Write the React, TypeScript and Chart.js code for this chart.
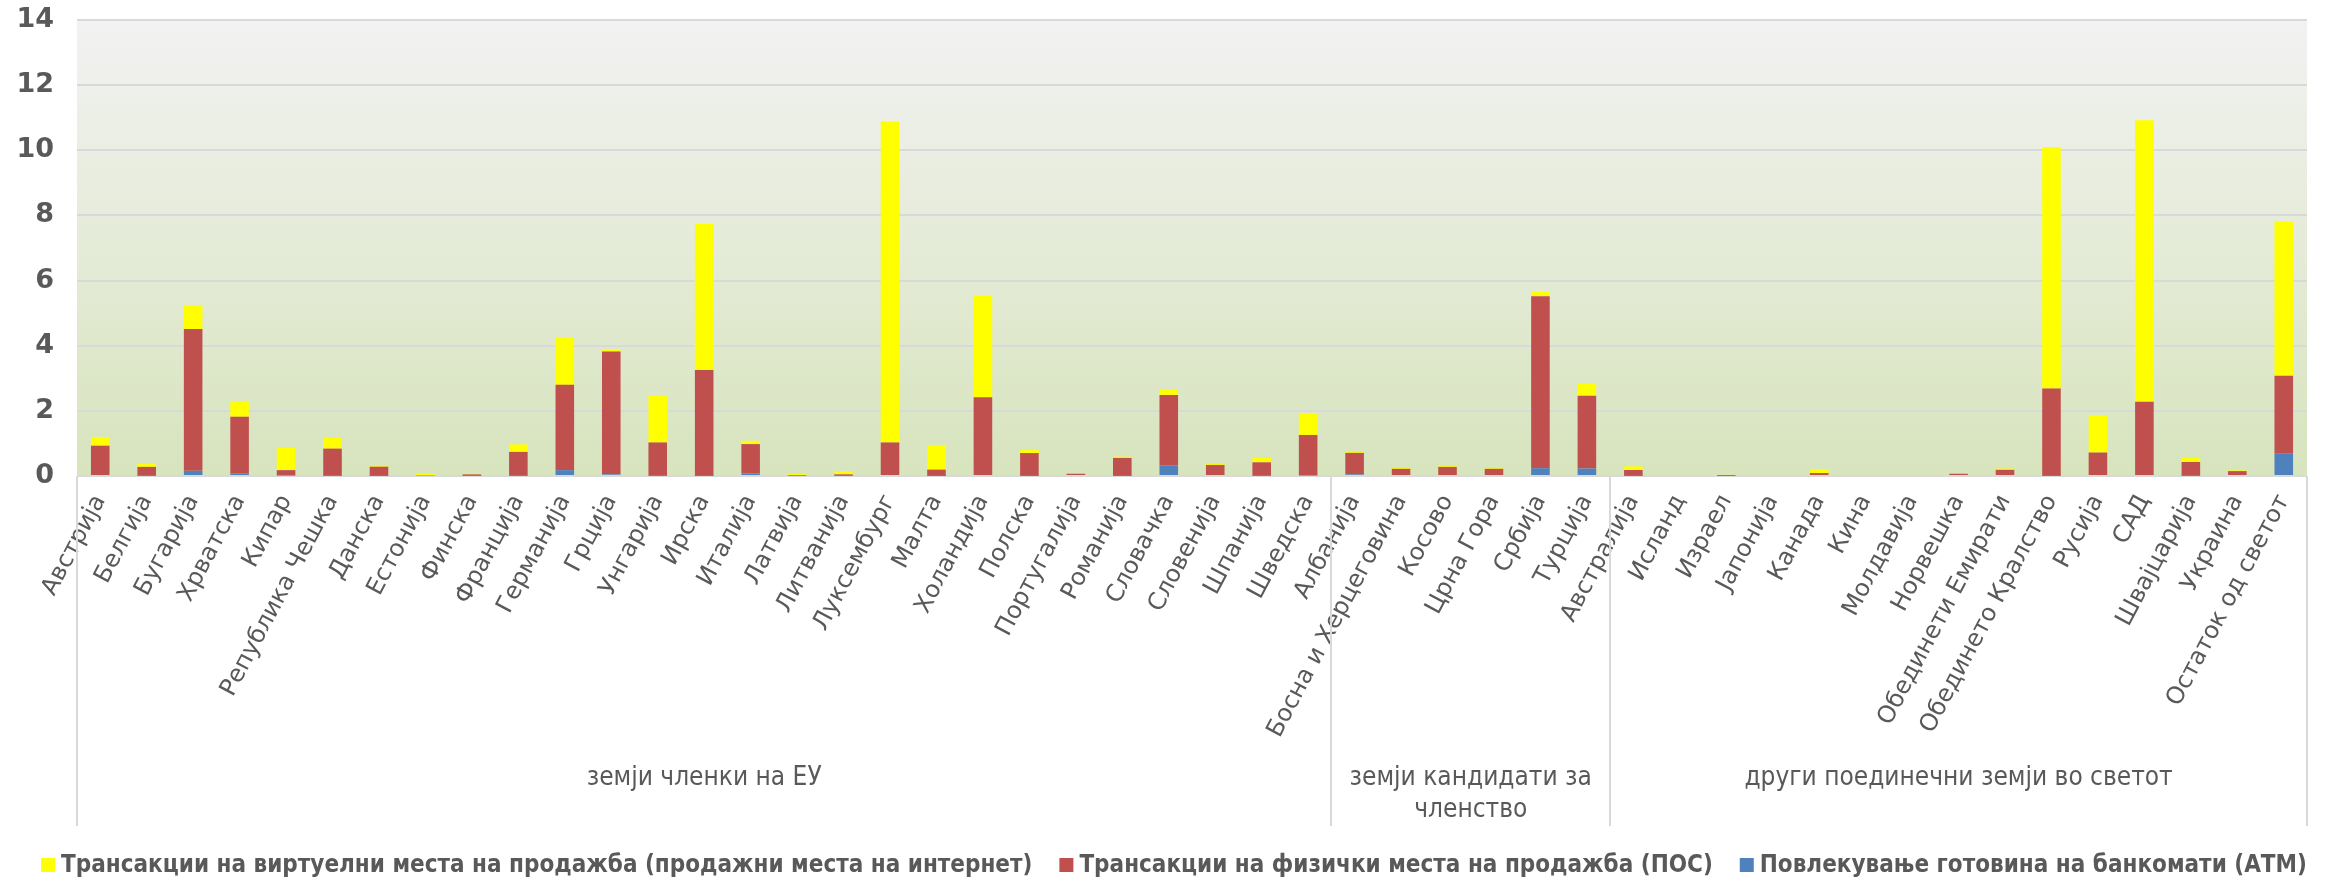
import React, { useEffect, useRef } from "react";
import { Chart, registerables } from "chart.js";

Chart.register(...registerables);

const categories = [
  "Австрија", "Белгија", "Бугарија", "Хрватска", "Кипар", "Република Чешка", "Данска", "Естонија", "Финска",
  "Франција", "Германија", "Грција", "Унгарија", "Ирска", "Италија", "Латвија", "Литванија", "Луксембург",
  "Малта", "Холандија", "Полска", "Португалија", "Романија", "Словачка", "Словенија", "Шпанија", "Шведска",
  "Албанија", "Босна и Херцеговина", "Косово", "Црна Гора", "Србија", "Турција",
  "Австралија", "Исланд", "Израел", "Јапонија", "Канада", "Кина", "Молдавија", "Норвешка",
  "Обединети Емирати", "Обединето Кралство", "Русија", "САД", "Швајцарија", "Украина", "Остаток од светот",
];

const atmValues = [
  0.03, 0.01, 0.16, 0.08, 0.02, 0.01, 0.005, 0, 0.01,
  0.01, 0.18, 0.05, 0.01, 0.005, 0.08, 0, 0.01, 0,
  0.005, 0.03, 0.005, 0, 0.005, 0.33, 0, 0.01, 0.02,
  0.05, 0, 0, 0, 0.24, 0.23,
  0.005, 0, 0, 0, 0, 0, 0, 0,
  0, 0.005, 0.03, 0.03, 0.01, 0, 0.7,
];

const posValues = [
  0.9, 0.27, 4.35, 1.74, 0.16, 0.83, 0.28, 0.02, 0.04,
  0.73, 2.62, 3.77, 1.02, 3.25, 0.9, 0.01, 0.04, 1.03,
  0.19, 2.39, 0.7, 0.07, 0.55, 2.16, 0.34, 0.41, 1.24,
  0.66, 0.22, 0.28, 0.22, 5.28, 2.23,
  0.18, 0, 0.005, 0, 0.09, 0, 0, 0.07,
  0.19, 2.68, 0.69, 2.25, 0.42, 0.15, 2.38,
];

const internetValues = [
  0.27, 0.09, 0.74, 0.47, 0.69, 0.33, 0.03, 0.05, 0.03,
  0.23, 1.46, 0.08, 1.43, 4.48, 0.1, 0.05, 0.09, 9.85,
  0.75, 3.11, 0.09, 0.02, 0.04, 0.15, 0.03, 0.14, 0.67,
  0.03, 0.03, 0.03, 0.02, 0.13, 0.39,
  0.11, 0, 0.03, 0, 0.12, 0, 0, 0.02,
  0.04, 7.41, 1.15, 8.64, 0.13, 0.02, 4.74,
];

const seriesNames = [
  "Повлекување готовина на банкомати (АТМ)",
  "Трансакции на физички места на продажба (ПОС)",
  "Трансакции на виртуелни места на продажба (продажни места на интернет)",
];

const groupLabels = [
  ["земји членки на ЕУ"],
  ["земји кандидати за", "членство"],
  ["други поединечни земји во светот"],
];
const groupSizes = [27, 6, 15];

const yMin = 0;
const yMax = 14;
const yStep = 2;

const COLORS = ["#4f81bd", "#c0504d", "#ffff00"];
const TEXT = "#595959";
const GRID = "#d9d9d9";

const W = 2325;
const H = 881;
const PLOT_TOP = 20;
const PLOT_BOTTOM = 476;

const bgPlugin = {
  id: "bgGradient",
  beforeDraw(chart: any) {
    const { ctx, chartArea } = chart;
    const { left, right, top, bottom } = chartArea;
    const g = ctx.createLinearGradient(0, top, 0, bottom);
    g.addColorStop(0, "#f2f2f2");
    g.addColorStop(1, "#d7e4bd");
    ctx.save();
    ctx.fillStyle = g;
    ctx.fillRect(left, top, right - left, bottom - top);
    ctx.restore();
  },
};

const groupPlugin = {
  id: "groups",
  afterDraw(chart: any) {
    const { ctx, chartArea } = chart;
    const x = chart.scales.x;
    const half = (x.getPixelForValue(1) - x.getPixelForValue(0)) / 2;
    const lineBottom = 826;
    ctx.save();
    ctx.strokeStyle = GRID;
    ctx.lineWidth = 2;
    let start = 0;
    const bounds: number[] = [0];
    groupSizes.forEach((n) => {
      start += n;
      bounds.push(start);
    });
    bounds.forEach((b) => {
      const px = Math.round(x.getPixelForValue(b) - half);
      ctx.beginPath();
      ctx.moveTo(px, chartArea.bottom);
      ctx.lineTo(px, lineBottom);
      ctx.stroke();
    });
    ctx.fillStyle = TEXT;
    ctx.font = "26px 'DejaVu Sans Condensed', 'DejaVu Sans'";
    ctx.textAlign = "center";
    ctx.textBaseline = "middle";
    groupLabels.forEach((lines, gi) => {
      const a = x.getPixelForValue(bounds[gi]) - half;
      const b = x.getPixelForValue(bounds[gi + 1]) - half;
      const cx = (a + b) / 2;
      lines.forEach((t, li) => {
        ctx.fillText(t, cx, 778 + li * 32);
      });
    });
    ctx.restore();
  },
};

const legendPlugin = {
  id: "customLegend",
  afterDraw(chart: any) {
    const { ctx } = chart;
    const box = 14;
    const gapText = 6;
    const gapItem = 27;
    const y = 865;
    ctx.save();
    ctx.font = "bold 24px 'DejaVu Sans Condensed', 'DejaVu Sans'";
    ctx.textBaseline = "middle";
    ctx.textAlign = "left";
    const items = chart.data.datasets
      .map((d: any, i: number) => ({ text: d.label, color: d.backgroundColor, i }))
      .reverse();
    const widths = items.map((it: any) => box + gapText + ctx.measureText(it.text).width);
    const total = widths.reduce((s: number, w: number) => s + w, 0) + gapItem * (items.length - 1);
    let cx = 1174 - total / 2;
    items.forEach((it: any, k: number) => {
      ctx.fillStyle = it.color;
      ctx.fillRect(cx, y - box / 2, box, box);
      ctx.fillStyle = TEXT;
      ctx.fillText(it.text, cx + box + gapText, y + 1);
      cx += widths[k] + gapItem;
    });
    ctx.restore();
  },
};

export default function App() {
  const canvasRef = useRef<HTMLCanvasElement | null>(null);

  useEffect(() => {
    document.body.style.margin = "0";
    const canvas = canvasRef.current;
    if (!canvas) return;
    const values = [atmValues, posValues, internetValues];
    const chart = new Chart(canvas, {
      type: "bar",
      data: {
        labels: categories,
        datasets: values.map((v, i) => ({
          label: seriesNames[i],
          data: v,
          backgroundColor: COLORS[i],
          borderWidth: 0,
          barPercentage: 0.4,
          categoryPercentage: 1,
        })),
      },
      options: {
        responsive: false,
        animation: false,
        devicePixelRatio: 1,
        layout: { padding: { left: 0, right: 18, top: 0, bottom: 0 } },
        plugins: {
          legend: { display: false },
          tooltip: { enabled: false },
        },
        scales: {
          x: {
            stacked: true,
            grid: { display: false },
            border: { display: false },
            ticks: {
              autoSkip: false,
              maxRotation: 62,
              minRotation: 62,
              padding: 6,
              color: TEXT,
              font: { family: "'DejaVu Sans'", size: 24 },
            },
            afterFit(scale: any) {
              scale.height = H - PLOT_BOTTOM;
            },
          },
          y: {
            stacked: true,
            min: yMin,
            max: yMax,
            grid: { color: GRID, lineWidth: 2, drawTicks: false },
            border: { display: false },
            ticks: {
              stepSize: yStep,
              padding: 23,
              color: TEXT,
              font: { family: "'DejaVu Sans'", size: 27, weight: "bold" },
            },
            afterFit(scale: any) {
              scale.width = 77;
              scale.paddingTop = PLOT_TOP;
              scale.paddingBottom = 0;
            },
          },
        },
      },
      plugins: [bgPlugin, groupPlugin, legendPlugin],
    });
    return () => chart.destroy();
  }, []);

  return (
    <div style={{ width: W, height: H }}>
      <canvas ref={canvasRef} width={W} height={H} style={{ display: "block" }} />
    </div>
  );
}
